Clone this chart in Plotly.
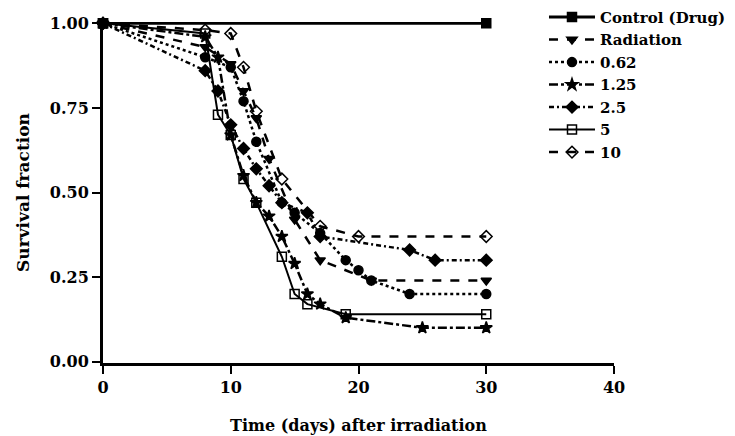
import plotly.graph_objects as go

# ---- data ----
ctrl_d = [0, 30]
ctrl_s = [1.0, 1.0]

rad_d = [0, 8, 10, 11, 12, 13, 15, 17, 21, 30]
rad_s = [1.0, 0.93, 0.88, 0.80, 0.72, 0.60, 0.42, 0.30, 0.24, 0.24]

d062_d = [0, 8, 10, 11, 12, 14, 15, 17, 19, 20, 21, 24, 30]
d062_s = [1.0, 0.90, 0.87, 0.77, 0.65, 0.47, 0.44, 0.38, 0.30, 0.27, 0.24, 0.20, 0.20]

d125_d = [0, 8, 9, 10, 11, 12, 13, 14, 15, 16, 17, 19, 25, 30]
d125_s = [1.0, 0.96, 0.90, 0.67, 0.55, 0.47, 0.43, 0.37, 0.29, 0.20, 0.17, 0.13, 0.10, 0.10]

d25_d = [0, 8, 9, 10, 11, 12, 13, 14, 16, 17, 24, 26, 30]
d25_s = [1.0, 0.86, 0.80, 0.70, 0.63, 0.57, 0.52, 0.47, 0.44, 0.37, 0.33, 0.30, 0.30]

d5_d = [0, 8, 9, 10, 11, 12, 14, 15, 16, 19, 30]
d5_s = [1.0, 0.97, 0.73, 0.67, 0.54, 0.47, 0.31, 0.20, 0.17, 0.14, 0.14]

d10_d = [0, 8, 10, 11, 12, 14, 17, 20, 30]
d10_s = [1.0, 0.98, 0.97, 0.87, 0.74, 0.54, 0.40, 0.37, 0.37]

x_ticks = [0, 10, 20, 30, 40]
y_ticks = [0.0, 0.25, 0.5, 0.75, 1.0]
y_tick_labels = ["0.00", "0.25", "0.50", "0.75", "1.00"]

FONT = "DejaVu Serif"

series = [
    ("Control (Drug)", ctrl_d, ctrl_s, "solid", "square", 3),
    ("Radiation", rad_d, rad_s, "dash", "triangle-down", 2.5),
    ("0.62", d062_d, d062_s, "dot", "circle", 2.5),
    ("1.25", d125_d, d125_s, "dashdot", "star", 2.5),
    ("2.5", d25_d, d25_s, "5px,3px,2px,3px", "diamond", 2.5),
    ("5", d5_d, d5_s, "solid", "square-open", 2),
    ("10", d10_d, d10_s, "dash", "diamond-open", 2.5),
]

fig = go.Figure()
for name, xs, ys, dash, sym, lw in series:
    fig.add_trace(go.Scatter(
        x=xs, y=ys, name=name, mode="lines+markers",
        line=dict(color="black", width=lw, dash=dash),
        marker=dict(symbol=sym, size=9, color="black",
                    line=dict(color="black", width=1.5)),
        cliponaxis=False,
    ))

fig.update_layout(
    width=727, height=428,
    margin=dict(l=95, r=121, t=14, b=73, autoexpand=False),
    paper_bgcolor="white", plot_bgcolor="white",
    font=dict(family=FONT, color="black", size=15),
    legend=dict(
        x=0.863, y=1.062, xanchor="left", yanchor="top",
        font=dict(family=FONT, size=15, weight="bold", color="black"),
        bgcolor="rgba(0,0,0,0)", itemwidth=46, tracegroupgap=0,
    ),
    xaxis=dict(
        range=[0, 40], tickvals=x_ticks, showgrid=False, zeroline=False,
        showline=True, linecolor="black", linewidth=3,
        ticks="outside", ticklen=8, tickwidth=2, tickcolor="black",
        tickfont=dict(family=FONT, size=16, weight="bold"),
        title=dict(text="Time (days) after irradiation",
                   font=dict(family=FONT, size=16, weight="bold"), standoff=24),
    ),
    yaxis=dict(
        range=[-0.004, 1.004], tickvals=y_ticks, ticktext=y_tick_labels,
        showgrid=False, zeroline=False,
        showline=True, linecolor="black", linewidth=3,
        ticks="outside", ticklen=8, tickwidth=2, tickcolor="black",
        tickfont=dict(family=FONT, size=16, weight="bold"),
        title=dict(text="Survival fraction",
                   font=dict(family=FONT, size=17, weight="bold"), standoff=16),
    ),
)

fig.write_html("out.html")
